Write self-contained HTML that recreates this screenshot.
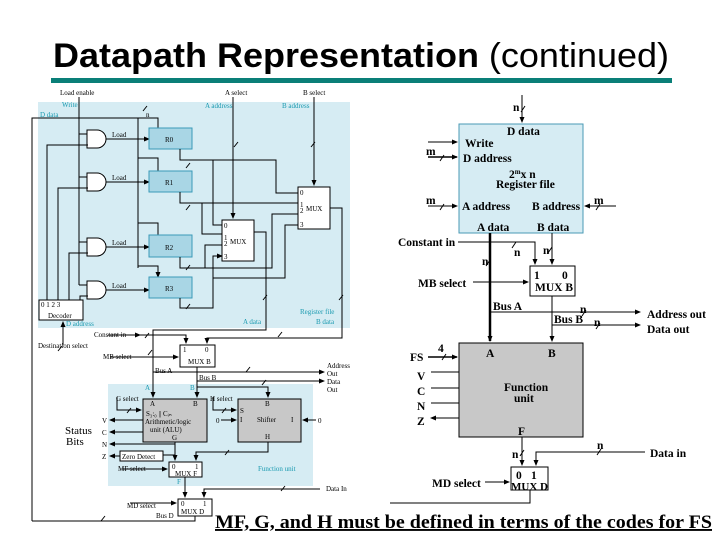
<!DOCTYPE html>
<html><head><meta charset="utf-8"><style>
html,body{margin:0;padding:0;background:#fff;width:720px;height:540px;overflow:hidden}
svg text{font-family:"Liberation Serif",serif}
.s{font-size:7px}
.c{fill:#1a9ab0}
.r{font-size:11.5px;font-weight:bold}
</style></head><body>
<svg width="720" height="540" viewBox="0 0 720 540" xmlns="http://www.w3.org/2000/svg">
<defs><marker id="a" markerWidth="6" markerHeight="6" refX="5" refY="3" orient="auto" markerUnits="userSpaceOnUse"><path d="M0,0.5 L6,3 L0,5.5z" fill="#000"/></marker></defs>
<text x="53" y="67" style="font-family:'Liberation Sans',sans-serif;font-size:34px" textLength="616" lengthAdjust="spacingAndGlyphs"><tspan font-weight="bold">Datapath Representation</tspan> (continued)</text>
<rect x="51" y="78" width="621" height="5" fill="#0a7f78"/>

<!-- LEFT DIAGRAM -->
<rect x="38" y="102" width="312" height="226" fill="#d6ecf3"/>
<rect x="108" y="384" width="205" height="102" fill="#d6ecf3"/>
<g stroke="#000" stroke-width="1" fill="none">
<path d="M79,97 V285"/>
<path d="M79,134 H88 M79,177 H88 M79,242 H88 M79,285 H88"/>
<path d="M87,130 H97 A9,9 0 0 1 97,148 H87Z" fill="#fff"/>
<path d="M87,173 H97 A9,9 0 0 1 97,191 H87Z" fill="#fff"/>
<path d="M87,238 H97 A9,9 0 0 1 97,256 H87Z" fill="#fff"/>
<path d="M87,281 H97 A9,9 0 0 1 97,299 H87Z" fill="#fff"/>
<path d="M106,139 H149" marker-end="url(#a)"/>
<path d="M106,182 H149" marker-end="url(#a)"/>
<path d="M106,247 H149" marker-end="url(#a)"/>
<path d="M106,290 H149" marker-end="url(#a)"/>
<path d="M47,300 V145 H88 M58,300 V188 H88 M69,300 V253 H88 M80,300 V296 H88"/>
<path d="M32,521 V118 H158 V128" />
<path d="M138,118 V268 M138,158 H158 V171 M138,223 H158 V235 M138,266 H158 V277"/>
<path d="M158,126 V128 M158,169 V171 M158,233 V235 M158,275 V277" marker-end="url(#a)"/>
<rect x="149" y="128" width="43" height="21" fill="#a9d6e5" stroke="#3a9ab8"/>
<rect x="149" y="171" width="43" height="21" fill="#a9d6e5" stroke="#3a9ab8"/>
<rect x="149" y="235" width="43" height="22" fill="#a9d6e5" stroke="#3a9ab8"/>
<rect x="149" y="277" width="43" height="21" fill="#a9d6e5" stroke="#3a9ab8"/>
<path d="M180,149 V160 H276 V193 H296" />
<path d="M213,160 V225 H220"/>
<path d="M180,192 V203 H296 M202,203 V234 H220"/>
<path d="M180,257 V268 H272 V214 H296 M205,268 V245 H220"/>
<path d="M180,298 V308 H213 V256 H220 M213,278 H285 V225 H296"/>
<path d="M295,193 H298 M295,203 H298 M295,214 H298 M295,225 H298 M219,225 H222 M219,234 H222 M219,245 H222 M219,256 H222" marker-end="url(#a)"/>
<path d="M233,97 V218" marker-end="url(#a)"/>
<path d="M314,97 V185" marker-end="url(#a)"/>
<rect x="222" y="220" width="32" height="41" fill="#fff"/>
<rect x="298" y="187" width="32" height="42" fill="#fff"/>
<path d="M254,232 H266 V330 H153 V397" marker-end="url(#a)"/>
<path d="M330,208 H342 V338 H207 V343" marker-end="url(#a)"/>
<rect x="39" y="300" width="44" height="20" fill="#fff"/>
<path d="M63,345 V322" marker-end="url(#a)"/>
<path d="M108,335 H140" marker-end="url(#a)"/>
<path d="M140,335 H186 V343" marker-end="url(#a)"/>
<path d="M110,357 H178" marker-end="url(#a)"/>
<rect x="180" y="345" width="35" height="22" fill="#fff"/>
<path d="M197,367 V397" marker-end="url(#a)"/>
<path d="M153,372 H324" marker-end="url(#a)"/>
<path d="M197,381 H324" marker-end="url(#a)"/>
<path d="M197,387 H268 V397" marker-end="url(#a)"/>
<rect x="143" y="399" width="64" height="43" fill="#c8c8c8"/>
<rect x="238" y="399" width="63" height="43" fill="#c8c8c8"/>
<path d="M117,397 V410 H141" marker-end="url(#a)"/>
<path d="M213,397 V410 H236" marker-end="url(#a)"/>
<path d="M221,420 H236" marker-end="url(#a)"/>
<path d="M316,420 H303" marker-end="url(#a)"/>
<path d="M143,420 H110" marker-end="url(#a)"/>
<path d="M143,432 H110" marker-end="url(#a)"/>
<path d="M175,442 V444 H110" marker-end="url(#a)"/>
<path d="M175,442 V460" marker-end="url(#a)"/>
<path d="M120,456 H110" marker-end="url(#a)"/>
<rect x="120" y="451" width="43" height="10" fill="#fff"/>
<path d="M175,455 H163"/>
<path d="M268,442 V452 H196 V460" marker-end="url(#a)"/>
<path d="M122,469 H167" marker-end="url(#a)"/>
<rect x="169" y="462" width="33" height="15" fill="#fff"/>
<path d="M185,477 V497" marker-end="url(#a)"/>
<path d="M320,489 H204 V497" marker-end="url(#a)"/>
<path d="M130,503 H176" marker-end="url(#a)"/>
<rect x="178" y="499" width="34" height="17" fill="#fff"/>
<path d="M195,516 V521 H32"/>
<path d="M143,111 l4,-5 M234,147 l4,-5 M311,147 l4,-5 M186,168 l4,-5 M186,210 l4,-5 M186,270 l4,-5 M186,309 l4,-5 M263,300 l4,-5 M339,300 l4,-5 M58,351 l4,-5 M148,355 l4,-5 M246,372 l4,-5 M262,385 l4,-5 M127,413 l4,-5 M222,413 l4,-5 M225,455 l4,-5 M281,491 l4,-5 M101,521 l4,-5 M145,338 l4,-5 M278,337 l4,-5"/>
</g>
<g class="s">
<text x="60" y="95">Load enable</text><text x="225" y="95">A select</text><text x="303" y="95">B select</text>
<text x="62" y="107" class="c">Write</text><text x="40" y="117" class="c">D data</text>
<text x="205" y="108" class="c">A address</text><text x="282" y="108" class="c">B address</text>
<text x="146" y="117">n</text>
<text x="112" y="137">Load</text><text x="112" y="180">Load</text><text x="112" y="245">Load</text><text x="112" y="288">Load</text>
<text x="165" y="142">R0</text><text x="165" y="185">R1</text><text x="165" y="250">R2</text><text x="165" y="291">R3</text>
<text x="224" y="228">0</text><text x="224" y="240">1</text><text x="224" y="246">2</text><text x="224" y="259">3</text><text x="230" y="244">MUX</text>
<text x="300" y="195">0</text><text x="300" y="207">1</text><text x="300" y="213">2</text><text x="300" y="227">3</text><text x="306" y="211">MUX</text>
<text x="41" y="307">0  1  2  3</text><text x="48" y="318">Decoder</text>
<text x="66" y="326" class="c">D address</text>
<text x="243" y="324" class="c">A data</text><text x="316" y="324" class="c">B data</text><text x="300" y="314" class="c">Register file</text>
<text x="38" y="348">Destination select</text>
<text x="94" y="337">Constant in</text>
<text x="103" y="359">MB select</text>
<text x="183" y="352">1</text><text x="205" y="352">0</text><text x="188" y="364">MUX B</text>
<text x="155" y="373">Bus A</text><text x="199" y="380">Bus B</text>
<text x="327" y="368">Address</text><text x="327" y="376">Out</text><text x="327" y="384">Data</text><text x="327" y="392">Out</text>
<text x="145" y="390" class="c">A</text><text x="190" y="390" class="c">B</text>
<text x="116" y="401">G select</text><text x="210" y="401">H select</text>
<text x="150" y="406">A</text><text x="193" y="406">B</text><text x="265" y="406">B</text>
<text x="146" y="416">S₃:₀ || Cᵢₙ</text><text x="145" y="424">Arithmetic/logic</text><text x="150" y="432">unit (ALU)</text><text x="172" y="440">G</text>
<text x="240" y="413">S</text><text x="240" y="422">I</text><text x="257" y="422">Shifter</text><text x="291" y="422">I</text><text x="265" y="439">H</text>
<text x="216" y="423">0</text><text x="318" y="423">0</text>
<text x="102" y="423">V</text><text x="102" y="435">C</text><text x="102" y="447">N</text><text x="102" y="459">Z</text>
<text x="122" y="459">Zero Detect</text>
<text x="118" y="471">MF select</text>
<text x="172" y="469">0</text><text x="195" y="469">1</text><text x="175" y="476">MUX F</text>
<text x="258" y="471" class="c">Function unit</text>
<text x="177" y="484" class="c">F</text>
<text x="326" y="491">Data In</text>
<text x="127" y="508">MD select</text><text x="156" y="518">Bus D</text>
<text x="181" y="506">0</text><text x="203" y="506">1</text><text x="181" y="514">MUX D</text>
</g>
<text x="65" y="434" style="font-size:11px">Status</text><text x="66" y="445" style="font-size:11px">Bits</text>

<!-- RIGHT DIAGRAM -->
<g stroke="#000" stroke-width="1" fill="none">
<path d="M522,95 V122" marker-end="url(#a)"/>
<rect x="459" y="124" width="124" height="109" fill="#d6ecf3" stroke="#4a9ab5"/>
<path d="M428,142 H457" marker-end="url(#a)"/>
<path d="M428,157 H457" marker-end="url(#a)" stroke-width="1.5"/>
<path d="M428,206 H457" marker-end="url(#a)"/>
<path d="M616,206 H585" marker-end="url(#a)"/>
<path d="M490,233 V341" stroke-width="2.5"/>
<path d="M490,336 V341" marker-end="url(#a)"/>
<path d="M552,233 V264" marker-end="url(#a)"/>
<path d="M458,242 H535 V264" marker-end="url(#a)"/>
<path d="M473,282 H528" marker-end="url(#a)"/>
<rect x="530" y="266" width="45" height="30" fill="#fff"/>
<path d="M552,296 V341" marker-end="url(#a)"/>
<path d="M490,312 H640" marker-end="url(#a)"/>
<path d="M552,325 H640" marker-end="url(#a)"/>
<rect x="459" y="343" width="124" height="94" fill="#c8c8c8"/>
<path d="M428,357 H457" marker-end="url(#a)" stroke-width="1.5"/>
<path d="M459,372 H431 M459,388 H431 M459,403 H431 M459,418 H431" marker-end="url(#a)"/>
<path d="M522,437 V465" marker-end="url(#a)"/>
<path d="M645,452 H536 V465" marker-end="url(#a)"/>
<path d="M485,482 H509" marker-end="url(#a)"/>
<rect x="511" y="467" width="37" height="23" fill="#fff"/>
<path d="M530,490 V503 H390"/>
<path d="M440,161 l4,-6 M440,210 l4,-6 M596,210 l4,-6 M521,112 l4,-6 M512,248 l4,-6 M486,266 l4,-6 M548,253 l4,-6 M582,316 l4,-6 M596,329 l4,-6 M442,360 l4,-6 M520,456 l4,-6 M597,455 l4,-6"/>
</g>
<g class="r">
<text x="513" y="111">n</text>
<text x="507" y="135">D data</text>
<text x="465" y="147">Write</text>
<text x="463" y="162">D address</text>
<text x="509" y="178">2<tspan font-size="7" dy="-4">m</tspan><tspan dy="4">x  n</tspan></text>
<text x="496" y="188">Register file</text>
<text x="462" y="210">A address</text><text x="532" y="210">B address</text>
<text x="477" y="231">A data</text><text x="537" y="231">B data</text>
<text x="398" y="246">Constant in</text>
<text x="418" y="287">MB select</text>
<text x="534" y="279">1</text><text x="562" y="279">0</text><text x="535" y="291">MUX B</text>
<text x="493" y="310">Bus A</text><text x="554" y="323">Bus B</text>
<text x="647" y="318">Address out</text><text x="647" y="333">Data out</text>
<text x="486" y="357">A</text><text x="548" y="357">B</text>
<text x="504" y="391">Function</text><text x="514" y="402">unit</text>
<text x="518" y="435">F</text>
<text x="410" y="361">FS</text><text x="417" y="380">V</text><text x="417" y="395">C</text><text x="417" y="410">N</text><text x="417" y="425">Z</text>
<text x="650" y="457">Data in</text>
<text x="432" y="487">MD select</text>
<text x="516" y="479">0</text><text x="531" y="479">1</text><text x="511" y="490" style="font-size:11px">MUX D</text>
<text x="426" y="155">m</text><text x="426" y="204">m</text><text x="594" y="204">m</text>
<text x="482" y="265">n</text><text x="543" y="254">n</text><text x="514" y="256">n</text>
<text x="580" y="313">n</text><text x="594" y="326">n</text><text x="438" y="352">4</text>
<text x="512" y="458">n</text><text x="597" y="449">n</text>
</g>
<text x="215" y="528" style="font-size:19px;font-weight:bold;text-decoration:underline" textLength="497" lengthAdjust="spacingAndGlyphs">MF, G, and H must be defined in terms of the codes for FS</text>
</svg>
</body></html>
